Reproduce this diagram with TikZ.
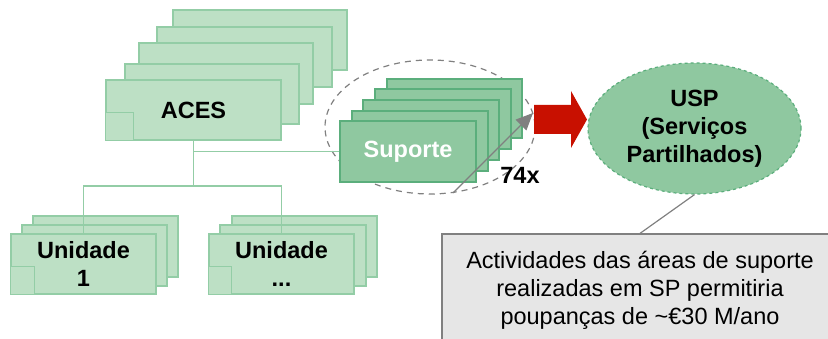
\documentclass[tikz,border=0pt]{standalone}
\usepackage{fontspec}
\setmainfont{Liberation Sans}
\usetikzlibrary{shapes.geometric,arrows.meta}

\definecolor{lightgreen}{HTML}{BDE0C5}
\definecolor{lightedge}{HTML}{93CDA6}
\definecolor{midgreen}{HTML}{8FC8A0}
\definecolor{midedge}{HTML}{5BAE7C}
\definecolor{arrowred}{HTML}{C81000}
\definecolor{notegray}{HTML}{E6E6E6}

\tikzset{
  lightbox/.style={draw=lightedge,fill=lightgreen,line width=1.5pt},
  supbox/.style={draw=midedge,fill=midgreen,line width=1.5pt},
  label/.style={font=\bfseries\fontsize{23.5}{28}\selectfont,align=center},
  link/.style={draw=lightedge,line width=1.5pt},
  greyline/.style={draw=gray,line width=1.2pt}
}

\begin{document}
\begin{tikzpicture}[x=1pt,y=-1pt]
\useasboundingbox (0,0) rectangle (828,339);

% ACES stack
\foreach \xa/\ya/\xb/\yb in {173/10/347/70, 157/27/332/87, 139/43/313/104, 125/64/299/124}
  \draw[lightbox] (\xa,\ya) rectangle (\xb,\yb);
\node[lightbox,label,minimum width=175pt,minimum height=60pt] (aces) at (193.5,110) {ACES};
\draw[lightbox] (aces.south west) rectangle ++(28,-28);

% Unidade stacks
\foreach \xa/\ya/\xb/\yb in {33/216/178/277, 22/225/167/286,
                             232/216/377/277, 220/225/366/286}
  \draw[lightbox] (\xa,\ya) rectangle (\xb,\yb);
\node[lightbox,label,minimum width=145pt,minimum height=60pt] (unit1) at (83.5,264) {Unidade\\1};
\node[lightbox,label,minimum width=145pt,minimum height=60pt] (unitn) at (281.5,264) {Unidade\\...};
\draw[lightbox] (unit1.south west) rectangle ++(24,-28);
\draw[lightbox] (unitn.south west) rectangle ++(23,-28);

% Suporte group
\draw[gray,dashed,line width=1.2pt,dash pattern=on 6pt off 5pt] (430,127) ellipse [x radius=105,y radius=67];
\foreach \xa/\ya/\xb/\yb in {387/79/522/138, 375/89/511/149, 363/100/499/160, 352/111/488/171}
  \draw[supbox] (\xa,\ya) rectangle (\xb,\yb);
\node[supbox,label,text=white,minimum width=136pt,minimum height=61pt] (sup) at (408,151.5) {Suporte};

% Links
\coordinate (split) at (193.5,186);
\draw[link] (aces.south) |- (sup.west);
\draw[link] (aces.south) -- (split);
\draw[link] (split) -| (unit1.north);
\draw[link] (split) -| (unitn.north);

% Count arrow
\coordinate (cntfrom) at (453,193);
\coordinate (cntto) at (533,113);
\draw[greyline,-{Triangle[length=17pt,width=15pt]}] (cntfrom) -- (cntto);
\node[label] (count) at (520,175) {74x};

% Red arrow
\fill[arrowred] (534,105) -- (571,105) -- (571,91) -- (587,119.5) -- (571,148) -- (571,134) -- (534,134) -- cycle;

% USP
\node[ellipse,draw=midedge,fill=midgreen,dashed,line width=1.2pt,label,
      minimum width=213pt,minimum height=131pt,inner sep=0pt] (usp) at (694.5,128.5)
      {USP\\(Serviços\\Partilhados)};

% Note
\node[draw=gray,fill=notegray,line width=1.2pt,align=center,
      font=\fontsize{23.5}{28}\selectfont,
      minimum width=396pt,minimum height=112pt] (note) at (640,290)
      {Actividades das áreas de suporte\\realizadas em SP permitiria\\poupanças de \textasciitilde€30 M/ano};
\draw[greyline] (usp.south) -- (note.north);

\end{tikzpicture}
\end{document}
